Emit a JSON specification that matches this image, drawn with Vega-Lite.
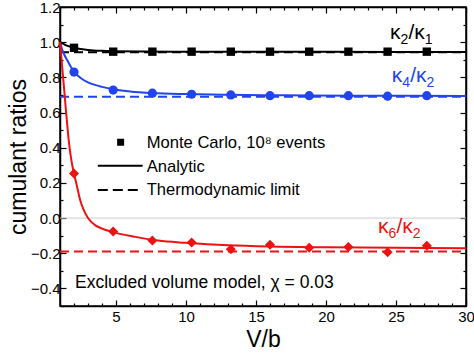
{
  "$schema": "https://vega.github.io/schema/vega-lite/v6.json",
  "width": 406,
  "height": 299,
  "autosize": "none",
  "padding": {"left": 60, "top": 7, "right": 8, "bottom": 47},
  "background": "white",
  "config": {
    "font": "Liberation Sans",
    "view": {"stroke": "black", "strokeWidth": 1.5},
    "axis": {
      "grid": false,
      "domainColor": "black",
      "domainWidth": 1.5,
      "tickColor": "black",
      "tickWidth": 1.2,
      "labelColor": "black",
      "labelFont": "Liberation Sans",
      "labelFontSize": 15,
      "titleFont": "Liberation Sans",
      "titleColor": "black",
      "titleFontWeight": "normal",
      "titleFontSize": 23,
      "labelOverlap": false,
      "labelFlush": false
    }
  },
  "datasets": {
    "one": [{}],
    "mc": [
      {"series": "k21", "V": 2, "r": 0.968},
      {"series": "k21", "V": 4.8, "r": 0.946},
      {"series": "k21", "V": 7.6, "r": 0.946},
      {"series": "k21", "V": 10.4, "r": 0.946},
      {"series": "k21", "V": 13.2, "r": 0.946},
      {"series": "k21", "V": 16, "r": 0.946},
      {"series": "k21", "V": 18.8, "r": 0.946},
      {"series": "k21", "V": 21.6, "r": 0.946},
      {"series": "k21", "V": 24.4, "r": 0.946},
      {"series": "k21", "V": 27.2, "r": 0.946},
      {"series": "k42", "V": 2, "r": 0.83},
      {"series": "k42", "V": 4.8, "r": 0.728},
      {"series": "k42", "V": 7.6, "r": 0.71},
      {"series": "k42", "V": 10.4, "r": 0.704},
      {"series": "k42", "V": 13.2, "r": 0.7},
      {"series": "k42", "V": 16, "r": 0.696},
      {"series": "k42", "V": 18.8, "r": 0.696},
      {"series": "k42", "V": 21.6, "r": 0.696},
      {"series": "k42", "V": 24.4, "r": 0.693},
      {"series": "k42", "V": 27.2, "r": 0.696},
      {"series": "k62", "V": 2, "r": 0.253},
      {"series": "k62", "V": 4.8, "r": -0.077},
      {"series": "k62", "V": 7.6, "r": -0.128},
      {"series": "k62", "V": 10.4, "r": -0.139},
      {"series": "k62", "V": 13.2, "r": -0.177},
      {"series": "k62", "V": 16, "r": -0.152},
      {"series": "k62", "V": 18.8, "r": -0.169},
      {"series": "k62", "V": 21.6, "r": -0.165},
      {"series": "k62", "V": 24.4, "r": -0.194},
      {"series": "k62", "V": 27.2, "r": -0.158}
    ],
    "analytic": [
      {"series": "k21", "V": 1, "r": 1.0},
      {"series": "k21", "V": 1.25, "r": 0.99},
      {"series": "k21", "V": 1.5, "r": 0.98},
      {"series": "k21", "V": 2, "r": 0.968},
      {"series": "k21", "V": 2.5, "r": 0.961},
      {"series": "k21", "V": 3, "r": 0.956},
      {"series": "k21", "V": 4, "r": 0.951},
      {"series": "k21", "V": 5, "r": 0.949},
      {"series": "k21", "V": 7, "r": 0.947},
      {"series": "k21", "V": 10, "r": 0.946},
      {"series": "k21", "V": 15, "r": 0.945},
      {"series": "k21", "V": 20, "r": 0.945},
      {"series": "k21", "V": 30, "r": 0.944},
      {"series": "k42", "V": 1, "r": 1.0},
      {"series": "k42", "V": 1.15, "r": 0.96},
      {"series": "k42", "V": 1.3, "r": 0.93},
      {"series": "k42", "V": 1.5, "r": 0.9},
      {"series": "k42", "V": 1.75, "r": 0.863},
      {"series": "k42", "V": 2, "r": 0.833},
      {"series": "k42", "V": 2.5, "r": 0.795},
      {"series": "k42", "V": 3, "r": 0.772},
      {"series": "k42", "V": 3.5, "r": 0.757},
      {"series": "k42", "V": 4, "r": 0.746},
      {"series": "k42", "V": 4.8, "r": 0.732},
      {"series": "k42", "V": 6, "r": 0.72},
      {"series": "k42", "V": 7.6, "r": 0.711},
      {"series": "k42", "V": 10, "r": 0.705},
      {"series": "k42", "V": 13, "r": 0.701},
      {"series": "k42", "V": 17, "r": 0.698},
      {"series": "k42", "V": 22, "r": 0.696},
      {"series": "k42", "V": 30, "r": 0.694},
      {"series": "k62", "V": 1, "r": 1.0},
      {"series": "k62", "V": 1.1, "r": 0.91},
      {"series": "k62", "V": 1.2, "r": 0.82},
      {"series": "k62", "V": 1.3, "r": 0.73},
      {"series": "k62", "V": 1.4, "r": 0.635},
      {"series": "k62", "V": 1.5, "r": 0.545},
      {"series": "k62", "V": 1.6, "r": 0.46},
      {"series": "k62", "V": 1.7, "r": 0.39},
      {"series": "k62", "V": 1.8, "r": 0.335},
      {"series": "k62", "V": 1.9, "r": 0.29},
      {"series": "k62", "V": 2.0, "r": 0.253},
      {"series": "k62", "V": 2.2, "r": 0.185},
      {"series": "k62", "V": 2.45, "r": 0.1},
      {"series": "k62", "V": 2.7, "r": 0.045},
      {"series": "k62", "V": 3.0, "r": 0.0},
      {"series": "k62", "V": 3.5, "r": -0.04},
      {"series": "k62", "V": 4.0, "r": -0.06},
      {"series": "k62", "V": 4.8, "r": -0.08},
      {"series": "k62", "V": 6.4, "r": -0.107},
      {"series": "k62", "V": 8, "r": -0.128},
      {"series": "k62", "V": 10, "r": -0.141},
      {"series": "k62", "V": 13, "r": -0.155},
      {"series": "k62", "V": 16, "r": -0.162},
      {"series": "k62", "V": 20, "r": -0.166},
      {"series": "k62", "V": 25, "r": -0.169},
      {"series": "k62", "V": 30, "r": -0.171}
    ],
    "limit": [
      {"series": "k21", "V": 1, "r": 0.943},
      {"series": "k21", "V": 30, "r": 0.943},
      {"series": "k42", "V": 1, "r": 0.69},
      {"series": "k42", "V": 30, "r": 0.69},
      {"series": "k62", "V": 1, "r": -0.19},
      {"series": "k62", "V": 30, "r": -0.19}
    ]
  },
  "layer": [
    {
      "data": {"name": "one"},
      "mark": {"type": "rule", "color": "#cccccc", "strokeWidth": 1},
      "encoding": {"y": {"datum": 0, "axis": null}}
    },
    {
      "data": {"name": "limit"},
      "mark": {"type": "line", "strokeDash": [9, 5], "strokeWidth": 2},
      "encoding": {
        "x": {
          "field": "V", "type": "quantitative",
          "scale": {"domain": [1, 30], "nice": false, "zero": false},
          "axis": {
            "orient": "bottom",
            "title": "V/b",
            "titleFontSize": 23,
            "values": [1,2,3,4,5,6,7,8,9,10,11,12,13,14,15,16,17,18,19,20,21,22,23,24,25,26,27,28,29,30],
            "labelExpr": "datum.value % 5 === 0 ? datum.label : ''",
            "tickSize": {"condition": {"test": "datum.value % 5 === 0", "value": -6}, "value": -3},
            "labelPadding": 9,
            "titlePadding": 1
          }
        },
        "y": {
          "field": "r", "type": "quantitative",
          "scale": {"domain": [-0.5, 1.2], "nice": false, "zero": false},
          "axis": {
            "orient": "left",
            "title": "cumulant ratios",
            "values": [-0.5,-0.4,-0.3,-0.2,-0.1,0,0.1,0.2,0.3,0.4,0.5,0.6,0.7,0.8,0.9,1,1.1,1.2],
            "labelExpr": "round(datum.value*10) % 2 === 0 ? format(datum.value, '.1f') : ''",
            "tickSize": {"condition": {"test": "round(datum.value*10) % 2 === 0", "value": -6}, "value": -3},
            "labelPadding": 6,
            "titlePadding": 0
          }
        },
        "color": {
          "field": "series", "type": "nominal",
          "scale": {"domain": ["k21", "k42", "k62"], "range": ["#000000", "#2244ee", "#ee1111"]},
          "legend": null
        }
      }
    },
    {
      "data": {"name": "analytic"},
      "mark": {"type": "line", "strokeWidth": 2, "interpolate": "monotone"},
      "encoding": {
        "x": {
          "field": "V", "type": "quantitative",
          "axis": {
            "orient": "top",
            "title": null,
            "labels": false,
            "values": [1,2,3,4,5,6,7,8,9,10,11,12,13,14,15,16,17,18,19,20,21,22,23,24,25,26,27,28,29,30],
            "tickSize": {"condition": {"test": "datum.value % 5 === 0", "value": -6}, "value": -3}
          }
        },
        "y": {
          "field": "r", "type": "quantitative",
          "axis": {
            "orient": "right",
            "title": null,
            "labels": false,
            "values": [-0.5,-0.4,-0.3,-0.2,-0.1,0,0.1,0.2,0.3,0.4,0.5,0.6,0.7,0.8,0.9,1,1.1,1.2],
            "tickSize": {"condition": {"test": "round(datum.value*10) % 2 === 0", "value": -6}, "value": -3}
          }
        },
        "color": {"field": "series", "type": "nominal", "legend": null}
      }
    },
    {
      "data": {"name": "mc"},
      "mark": {"type": "point", "filled": true, "opacity": 1},
      "encoding": {
        "x": {"field": "V", "type": "quantitative", "axis": null},
        "y": {"field": "r", "type": "quantitative", "axis": null},
        "color": {"field": "series", "type": "nominal", "legend": null},
        "shape": {
          "field": "series", "type": "nominal",
          "scale": {"domain": ["k21", "k42", "k62"], "range": ["square", "circle", "diamond"]},
          "legend": null
        },
        "size": {
          "field": "series", "type": "nominal",
          "scale": {"domain": ["k21", "k42", "k62"], "range": [70, 100, 140]},
          "legend": null
        }
      }
    },
    {"data": {"name": "one"}, "mark": {"type": "text", "text": "κ", "fontSize": 21, "color": "#000000", "align": "left", "baseline": "alphabetic"},
     "encoding": {"x": {"datum": 24.57, "axis": null}, "y": {"datum": 1.016, "axis": null}}},
    {"data": {"name": "one"}, "mark": {"type": "text", "text": "2", "fontSize": 14, "dx": 10.5, "dy": 5, "color": "#000000", "align": "left", "baseline": "alphabetic"},
     "encoding": {"x": {"datum": 24.57, "axis": null}, "y": {"datum": 1.016, "axis": null}}},
    {"data": {"name": "one"}, "mark": {"type": "text", "text": "/κ", "fontSize": 21, "dx": 18.5, "color": "#000000", "align": "left", "baseline": "alphabetic"},
     "encoding": {"x": {"datum": 24.57, "axis": null}, "y": {"datum": 1.016, "axis": null}}},
    {"data": {"name": "one"}, "mark": {"type": "text", "text": "1", "fontSize": 14, "dx": 34.8, "dy": 5, "color": "#000000", "align": "left", "baseline": "alphabetic"},
     "encoding": {"x": {"datum": 24.57, "axis": null}, "y": {"datum": 1.016, "axis": null}}},
    {"data": {"name": "one"}, "mark": {"type": "text", "text": "κ", "fontSize": 21, "color": "#2244ee", "align": "left", "baseline": "alphabetic"},
     "encoding": {"x": {"datum": 24.69, "axis": null}, "y": {"datum": 0.776, "axis": null}}},
    {"data": {"name": "one"}, "mark": {"type": "text", "text": "4", "fontSize": 14, "dx": 10.5, "dy": 5, "color": "#2244ee", "align": "left", "baseline": "alphabetic"},
     "encoding": {"x": {"datum": 24.69, "axis": null}, "y": {"datum": 0.776, "axis": null}}},
    {"data": {"name": "one"}, "mark": {"type": "text", "text": "/κ", "fontSize": 21, "dx": 18.5, "color": "#2244ee", "align": "left", "baseline": "alphabetic"},
     "encoding": {"x": {"datum": 24.69, "axis": null}, "y": {"datum": 0.776, "axis": null}}},
    {"data": {"name": "one"}, "mark": {"type": "text", "text": "2", "fontSize": 14, "dx": 34.8, "dy": 5, "color": "#2244ee", "align": "left", "baseline": "alphabetic"},
     "encoding": {"x": {"datum": 24.69, "axis": null}, "y": {"datum": 0.776, "axis": null}}},
    {"data": {"name": "one"}, "mark": {"type": "text", "text": "κ", "fontSize": 21, "color": "#ee1111", "align": "left", "baseline": "alphabetic"},
     "encoding": {"x": {"datum": 23.71, "axis": null}, "y": {"datum": -0.086, "axis": null}}},
    {"data": {"name": "one"}, "mark": {"type": "text", "text": "6", "fontSize": 14, "dx": 10.5, "dy": 5, "color": "#ee1111", "align": "left", "baseline": "alphabetic"},
     "encoding": {"x": {"datum": 23.71, "axis": null}, "y": {"datum": -0.086, "axis": null}}},
    {"data": {"name": "one"}, "mark": {"type": "text", "text": "/κ", "fontSize": 21, "dx": 18.5, "color": "#ee1111", "align": "left", "baseline": "alphabetic"},
     "encoding": {"x": {"datum": 23.71, "axis": null}, "y": {"datum": -0.086, "axis": null}}},
    {"data": {"name": "one"}, "mark": {"type": "text", "text": "2", "fontSize": 14, "dx": 34.8, "dy": 5, "color": "#ee1111", "align": "left", "baseline": "alphabetic"},
     "encoding": {"x": {"datum": 23.71, "axis": null}, "y": {"datum": -0.086, "axis": null}}},
    {
      "data": {"name": "one"},
      "mark": {"type": "text", "text": "Excluded volume model, χ = 0.03", "fontSize": 17.5, "color": "#000000", "align": "left", "baseline": "alphabetic"},
      "encoding": {"x": {"datum": 2.07, "axis": null}, "y": {"datum": -0.395, "axis": null}}
    },
    {
      "data": {"name": "one"},
      "mark": {"type": "point", "shape": "square", "filled": true, "opacity": 1, "color": "#000000", "size": 49},
      "encoding": {"x": {"datum": 5.33, "axis": null}, "y": {"datum": 0.431, "axis": null}}
    },
    {
      "data": {"name": "one"},
      "mark": {"type": "rule", "color": "#000000", "strokeWidth": 2},
      "encoding": {"x": {"datum": 3.7, "axis": null}, "x2": {"datum": 6.9}, "y": {"datum": 0.297, "axis": null}}
    },
    {
      "data": {"name": "one"},
      "mark": {"type": "rule", "color": "#000000", "strokeWidth": 2, "strokeDash": [10, 5]},
      "encoding": {"x": {"datum": 3.7, "axis": null}, "x2": {"datum": 6.57}, "y": {"datum": 0.16, "axis": null}}
    },
    {
      "data": {"name": "one"},
      "mark": {"type": "text", "text": "Monte Carlo, 10⁸ events", "fontSize": 16.6, "color": "#000000", "align": "left", "baseline": "alphabetic"},
      "encoding": {"x": {"datum": 7.19, "axis": null}, "y": {"datum": 0.397, "axis": null}}
    },
    {
      "data": {"name": "one"},
      "mark": {"type": "text", "text": "Analytic", "fontSize": 16.6, "color": "#000000", "align": "left", "baseline": "alphabetic"},
      "encoding": {"x": {"datum": 7.19, "axis": null}, "y": {"datum": 0.264, "axis": null}}
    },
    {
      "data": {"name": "one"},
      "mark": {"type": "text", "text": "Thermodynamic limit", "fontSize": 16.6, "color": "#000000", "align": "left", "baseline": "alphabetic"},
      "encoding": {"x": {"datum": 7.19, "axis": null}, "y": {"datum": 0.132, "axis": null}}
    }
  ],
  "resolve": {"axis": {"x": "independent", "y": "independent"}}
}
